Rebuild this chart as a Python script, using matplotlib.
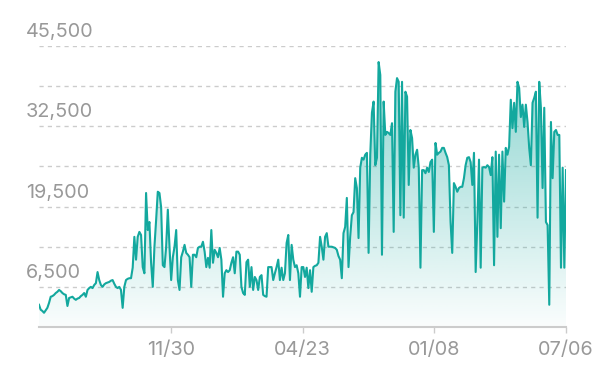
import matplotlib
matplotlib.use("Agg")
import matplotlib.pyplot as plt
import matplotlib.transforms as mtransforms
import numpy as np
from matplotlib.patches import PathPatch
from matplotlib.path import Path

# daily values, split in chunks from left to right
values_a = [3600, 2800, 2600, 2300, 2700, 3100, 3900, 4900, 5000, 5200,
            5500, 5700, 6000, 5800, 5500, 5300, 5200, 3400, 4700, 4800,
            4900, 4600, 4400, 4600, 4700, 5000, 5200, 5500, 4900, 6000,
            6300, 6500, 6300, 6800, 7100, 8900, 7600, 6800, 6500, 6900,
            7100, 7200, 7300, 7500, 7600, 7000, 6500, 6300, 6500, 6000,
            3100, 6500, 7600, 7800, 7900, 7900, 9600, 14600, 10900, 14600,
            15400]
values_b = [14900, 9700, 8700, 21700, 15700, 17000, 10400, 6500, 13000, 17300,
            21900, 21700, 19400, 10000, 9700, 13000, 19000, 13000, 7600, 11300,
            13000, 15700, 7600, 6000, 11300, 12200, 13300, 12000, 11700, 11300,
            6500, 11700, 11700, 11300, 12800, 13000, 13000, 13800, 12200, 9700,
            11200, 9600, 15700, 10400, 12500, 12000, 11300, 12800, 10900, 4900,
            8700, 9200, 8900, 9200, 10400, 11300, 8700, 12200, 12200, 11700,
            6500, 5500, 5200, 10500, 10900]
values_c = [6500, 9700, 6000, 8100, 7600, 6000, 8100, 8400, 5200, 5000,
            4900, 9700, 9700, 9700, 7600, 8700, 9700, 10900, 7600, 9600,
            7600, 8700, 13600, 14900, 7600, 13300, 10900, 9700, 10000, 8700,
            4900, 9700, 9700, 8100, 9600, 6300, 9200, 5700, 9700, 9900,
            10000, 10400, 14600, 13000, 10900, 14600, 15200, 13000, 13000, 13000,
            12900, 12800, 12500, 11500, 10900, 7900, 15200, 16200, 20900, 9700,
            14600]
values_d = [18100, 18600, 24100, 22500, 14400, 25800, 27400, 27100, 27900, 28200,
            12000, 27900, 34700, 36500, 26200, 27400, 42900, 40800, 11700, 36500,
            31100, 31600, 31400, 31100, 33000, 15400, 38100, 40300, 39700, 18100,
            39700, 17700, 38100, 37300, 23000, 31900, 30600, 25800, 27900, 28700,
            25800, 9600, 25400, 25400, 24900, 25800, 25100, 26700, 27100, 15400,
            29800, 27900, 28200, 28400, 29000, 29000, 28200, 27500, 26200, 17000,
            12000, 23300, 22700]
values_e = [21900, 22500, 22700, 22700, 24100, 26200, 27400, 27500, 26700, 23000,
            28200, 8900, 17000, 27100, 9600, 25800, 25900, 25800, 26200, 25900,
            24600, 27500, 10000, 28400, 14600, 27900, 16000, 28400, 20300, 29000,
            27900, 29200, 36800, 32200, 36300, 31600, 39700, 38700, 34000, 36000,
            32400, 36000, 33200, 29000, 26200, 36300, 37100, 38100, 17700, 39700,
            35500, 22500, 35500, 17000, 16500, 3600, 33200, 24100, 31600, 31900,
            31100, 31100, 9600, 25800, 9600, 25400]

values = np.array(values_a + values_b + values_c + values_d + values_e, dtype=float)
x_labels = ["11/30", "04/23", "01/08", "07/06"]
y_ticks = [6500, 13000, 19500, 26000, 32500, 39000, 45500]
y_labeled = [6500, 19500, 32500, 45500]

line_color = "#13a89e"
grid_color = "#cccccc"
text_color = "#999999"

plt.rcParams["font.family"] = ["Inter", "DejaVu Sans"]

fig = plt.figure(figsize=(6.14, 3.78), dpi=100)
ax = fig.add_axes([39 / 614, 51 / 378, 527 / 614, 281 / 378])

n = len(values)
x = np.arange(n)

# gradient fill under the line, clipped to the area polygon
grad = np.linspace(0.0, 1.0, 256).reshape(-1, 1)
rgba = np.zeros((256, 1, 4))
rgba[..., :3] = matplotlib.colors.to_rgb(line_color)
rgba[..., 3] = 0.02 + 0.5 * grad
img = ax.imshow(rgba, extent=[0, n - 1, 0, 45500], origin="lower",
                aspect="auto", zorder=1)
verts = np.vstack([[0, 0], np.column_stack([x, values]), [n - 1, 0]])
clip = PathPatch(Path(verts), transform=ax.transData, facecolor="none",
                 edgecolor="none")
ax.add_patch(clip)
img.set_clip_path(clip)

ax.plot(x, values, color=line_color, lw=1.5, zorder=3, solid_joinstyle="round")

ax.set_xlim(0, n - 1)
ax.set_ylim(0, 45500)

# dashed grid, every other line labelled above the line
label_tf = mtransforms.offset_copy(ax.get_yaxis_transform(), fig=fig,
                                   x=-13, y=5, units="dots")
for v in y_ticks:
    ax.axhline(v, color=grid_color, lw=1, ls=(0, (3, 3)), zorder=0)
for v in y_labeled:
    ax.text(0, v, f"{v:,}", transform=label_tf, ha="left", va="bottom",
            fontsize=14.3, color=text_color)

for s in ["top", "right", "left"]:
    ax.spines[s].set_visible(False)
ax.spines["bottom"].set_color(grid_color)
ax.spines["bottom"].set_linewidth(1.5)

ticks = [(n - 1) * k / 4 for k in range(1, 5)]
ax.set_xticks(ticks)
ax.set_xticklabels(x_labels, fontsize=14.3, color=text_color)
ax.tick_params(axis="x", length=4, width=1, color=grid_color, pad=6)
ax.set_yticks([])

fig.savefig("out.png", dpi=100)
